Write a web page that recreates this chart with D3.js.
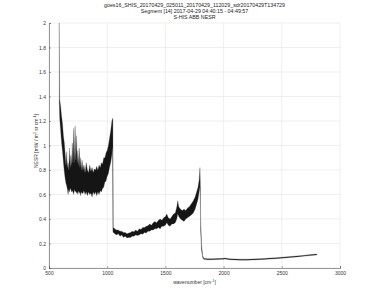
<!DOCTYPE html>
<html>
<head>
<meta charset="utf-8">
<script src="https://cdn.jsdelivr.net/npm/d3@7"></script>
<style>
  body { margin: 0; background: #fff; }
  svg { font-family: "Liberation Sans", Arial, sans-serif; }
</style>
</head>
<body>
<div class="chart"></div>
<script>
// Titles and tick labels
var titleLines = [
  "goes16_SHIS_20170429_025011_20170429_112029_sdr20170429T134729",
  "Segment [14] 2017-04-29 04:40:15 - 04:49:57",
  "S-HIS ABB NESR"
];
var xTicks = [500, 1000, 1500, 2000, 2500, 3000];
var yTicks = [0, 0.2, 0.4, 0.6, 0.8, 1, 1.2, 1.4, 1.6, 1.8, 2];

// Spectrum envelope: wavenumber, lower and upper NESR
var wavenumber = [
  588, 592, 600, 608, 616, 624, 632, 640, 646, 652, 658, 664, 670, 676, 682, 688, 694, 700, 706, 712,
  718, 724, 730, 736, 742, 748, 754, 760, 766, 772, 778, 784, 792, 800, 810, 820, 830, 840, 850, 860,
  870, 880, 890, 900, 910, 920, 930, 940, 950, 960, 970, 980, 990, 1000, 1010, 1020, 1030, 1040, 1046, 1049,
  1052, 1065, 1080, 1095, 1110, 1125, 1140, 1155, 1170, 1185, 1200, 1215, 1230, 1245, 1260, 1275,
  1290, 1305, 1320, 1335, 1350, 1365, 1380, 1395, 1410, 1425, 1440, 1455, 1470, 1485, 1500, 1512,
  1525, 1540, 1555, 1570, 1585, 1598, 1606, 1615, 1630, 1645, 1660, 1675, 1690, 1705, 1720, 1740,
  1755, 1768, 1780, 1790, 1797, 1800, 1803, 1810, 1820,
  1830, 1860, 1900, 1950, 2000, 2010, 2050, 2100, 2150, 2200, 2250, 2300, 2350, 2400, 2450, 2500,
  2550, 2600, 2650, 2700, 2750, 2800
];
var nesrLow = [
  1.35, 1.22, 1.12, 1.02, 0.95, 0.86, 0.78, 0.72, 0.69, 0.67, 0.64, 0.60, 0.64, 0.62, 0.65, 0.64, 0.62, 0.63, 0.62, 0.60,
  0.64, 0.62, 0.63, 0.61, 0.62, 0.60, 0.63, 0.61, 0.62, 0.59, 0.62, 0.61, 0.61, 0.63, 0.60, 0.62, 0.59, 0.62, 0.60, 0.61,
  0.58, 0.62, 0.60, 0.62, 0.59, 0.62, 0.60, 0.63, 0.62, 0.65, 0.66, 0.70, 0.71, 0.75, 0.77, 0.82, 0.86, 0.92, 0.98, 0.30,
  0.29, 0.28, 0.27, 0.28, 0.26, 0.27, 0.25, 0.26, 0.245, 0.25, 0.25, 0.26, 0.26, 0.27, 0.265, 0.27,
  0.28, 0.275, 0.29, 0.285, 0.30, 0.30, 0.31, 0.31, 0.32, 0.32, 0.33, 0.32, 0.34, 0.34, 0.35, 0.37,
  0.35, 0.34, 0.36, 0.36, 0.37, 0.40, 0.44, 0.42, 0.40, 0.39, 0.38, 0.40, 0.41, 0.42, 0.43, 0.45,
  0.48, 0.52, 0.56, 0.62, 0.66, 0.50, 0.30, 0.15, 0.085,
  0.071, 0.067, 0.068, 0.069, 0.071, 0.073, 0.068, 0.065, 0.064, 0.064, 0.066, 0.068, 0.07, 0.073, 0.076, 0.08,
  0.084, 0.088, 0.092, 0.097, 0.102, 0.106
];
var nesrHigh = [
  2.0, 1.38, 1.32, 1.24, 1.18, 1.08, 1.02, 0.92, 0.84, 0.95, 0.82, 0.86, 0.80, 0.98, 0.82, 0.92, 0.84, 1.02, 0.86, 1.14,
  0.86, 1.16, 0.88, 1.08, 0.86, 0.96, 0.84, 0.98, 0.82, 0.90, 0.80, 0.88, 0.80, 0.84, 0.78, 0.86, 0.80, 0.78, 0.84, 0.79,
  0.82, 0.78, 0.81, 0.80, 0.83, 0.80, 0.84, 0.82, 0.86, 0.85, 0.90, 0.90, 0.94, 0.96, 1.00, 1.06, 1.12, 1.20, 1.22, 1.22,
  0.33, 0.32, 0.31, 0.31, 0.30, 0.30, 0.29, 0.29, 0.28, 0.285, 0.29, 0.30, 0.295, 0.31, 0.30, 0.32,
  0.315, 0.33, 0.33, 0.34, 0.345, 0.36, 0.35, 0.37, 0.38, 0.37, 0.39, 0.40, 0.39, 0.41, 0.42, 0.44,
  0.41, 0.40, 0.42, 0.44, 0.45, 0.50, 0.55, 0.50, 0.48, 0.47, 0.48, 0.47, 0.49, 0.50, 0.52, 0.55,
  0.58, 0.62, 0.66, 0.72, 0.82, 0.70, 0.40, 0.20, 0.10,
  0.08, 0.076, 0.076, 0.077, 0.079, 0.082, 0.076, 0.073, 0.072, 0.072, 0.074, 0.076, 0.078, 0.081, 0.084, 0.088,
  0.092, 0.096, 0.10, 0.105, 0.11, 0.115
];

var spectrum = wavenumber.map(function (w, i) {
  return { wn: w, lo: nesrLow[i], hi: nesrHigh[i] };
});

var svgWidth = 375;
var svgHeight = 301;
var margin = { top: 23, right: 35, bottom: 33, left: 49 };
var width = svgWidth - margin.left - margin.right;
var height = svgHeight - margin.top - margin.bottom;

var svg = d3.select(".chart")
  .append("svg")
  .attr("width", svgWidth)
  .attr("height", svgHeight);

svg.append("rect")
  .attr("width", svgWidth)
  .attr("height", svgHeight)
  .attr("fill", "#fff");

var chartGroup = svg.append("g")
  .attr("transform", `translate(${margin.left}, ${margin.top})`);

var xScale = d3.scaleLinear().domain([500, 3000]).range([0, width]);
var yScale = d3.scaleLinear().domain([0, 2]).range([height, 0]);

// grid
chartGroup.append("g")
  .selectAll("line")
  .data(xTicks)
  .enter()
  .append("line")
  .attr("x1", d => xScale(d)).attr("x2", d => xScale(d))
  .attr("y1", 0).attr("y2", height)
  .attr("stroke", "#e4e4e4")
  .attr("stroke-width", 0.6);

chartGroup.append("g")
  .selectAll("line")
  .data(yTicks)
  .enter()
  .append("line")
  .attr("x1", 0).attr("x2", width)
  .attr("y1", d => yScale(d)).attr("y2", d => yScale(d))
  .attr("stroke", "#e4e4e4")
  .attr("stroke-width", 0.6);

// spectrum
var area = d3.area()
  .x(d => xScale(d.wn))
  .y0(d => yScale(d.lo))
  .y1(d => yScale(d.hi));

chartGroup.append("path")
  .datum(spectrum)
  .attr("d", area)
  .attr("fill", "#151515")
  .attr("stroke", "#555")
  .attr("stroke-width", 0.3);

// axes
var bottomAxis = d3.axisBottom(xScale).tickValues(xTicks).tickSize(-2).tickPadding(3).tickFormat(d3.format("d"));
var leftAxis = d3.axisLeft(yScale).tickValues(yTicks).tickSize(-2).tickPadding(3).tickFormat(d => d);

var gx = chartGroup.append("g")
  .attr("transform", `translate(0, ${height})`)
  .call(bottomAxis);

var gy = chartGroup.append("g")
  .call(leftAxis);

[gx, gy].forEach(function (g) {
  g.select(".domain").attr("stroke", "#555").attr("stroke-width", 0.6);
  g.selectAll(".tick line").attr("stroke", "#555").attr("stroke-width", 0.5);
  g.selectAll(".tick text").attr("font-size", "5px").attr("fill", "#333");
});

// titles
svg.append("g")
  .selectAll("text")
  .data(titleLines)
  .enter()
  .append("text")
  .attr("x", margin.left + width / 2)
  .attr("y", (d, i) => 6.5 + i * 6)
  .attr("text-anchor", "middle")
  .attr("font-size", "5.3px")
  .attr("fill", "#222")
  .text(d => d);

// axis labels
var xLabel = svg.append("text")
  .attr("x", margin.left + width / 2)
  .attr("y", 284)
  .attr("text-anchor", "middle")
  .attr("font-size", "5px")
  .attr("fill", "#333");
xLabel.append("tspan").text("wavenumber [cm");
xLabel.append("tspan").attr("dy", -2).attr("font-size", "3.5px").text("-1");
xLabel.append("tspan").attr("dy", 2).text("]");

var yLabel = svg.append("text")
  .attr("transform", `translate(38, ${141}) rotate(-90)`)
  .attr("text-anchor", "middle")
  .attr("font-size", "5px")
  .attr("fill", "#333");
yLabel.append("tspan").text("NESR [mW / m");
yLabel.append("tspan").attr("dy", -2).attr("font-size", "3.5px").text("2");
yLabel.append("tspan").attr("dy", 2).text(" sr  cm");
yLabel.append("tspan").attr("dy", -2).attr("font-size", "3.5px").text("-1");
yLabel.append("tspan").attr("dy", 2).text("]");
</script>
</body>
</html>
